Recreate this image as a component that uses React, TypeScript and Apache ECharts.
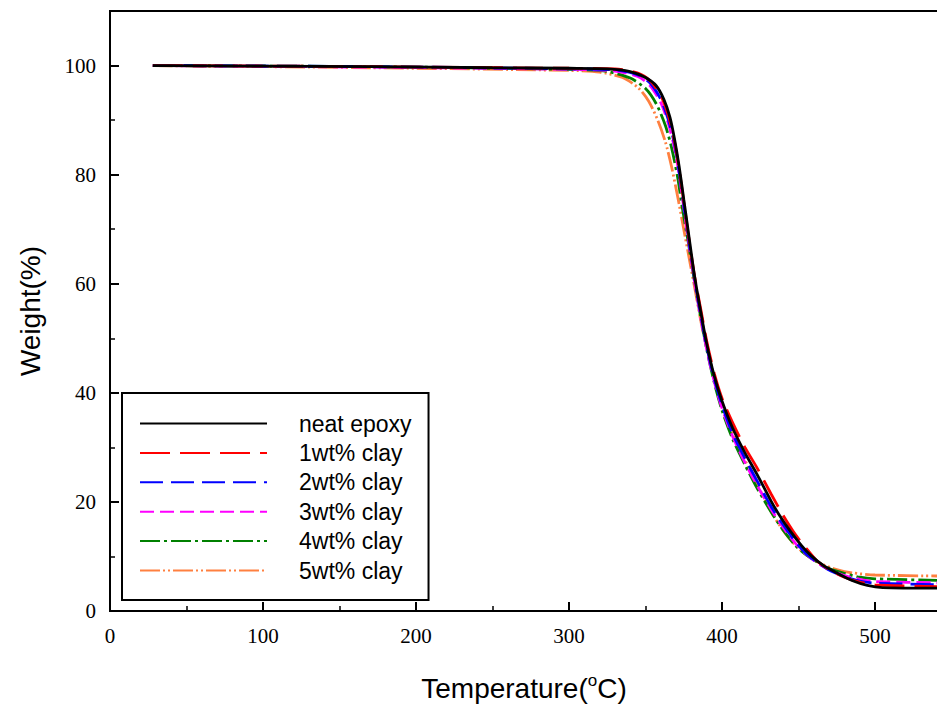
import React, { useEffect, useRef } from "react";
import * as echarts from "echarts";

const seriesNames = ["neat epoxy", "1wt% clay", "2wt% clay", "3wt% clay", "4wt% clay", "5wt% clay"];
const seriesColors = ["#000000", "#ff0000", "#0000ff", "#ff00ff", "#008000", "#ff8040"];

const neatEpoxy: number[][] = [
  [28, 100], [100, 99.9], [170, 99.8], [250, 99.6], [300, 99.5], [325, 99.4], [340, 98.9], [350, 97.8],
  [357, 96.3], [362, 93.8], [366, 90.5], [369, 86.5], [372, 81.5], [375, 75.5], [378, 69.5], [382, 61.5],
  [386, 55], [390, 49], [395, 43], [400, 38.5], [407, 33.5], [415, 29], [423, 25], [432, 20.2], [437, 17.8],
  [445, 14.5], [452, 12], [458, 10.2], [466, 8.4], [475, 7], [485, 5.6], [495, 4.7], [505, 4.3], [545, 4.2],
];
const clay1: number[][] = [
  [28, 100], [170, 99.8], [300, 99.5], [330, 99.4], [345, 98.6], [353, 97.2], [360, 94.5], [365, 90.8],
  [369, 86], [372, 81], [375, 75], [378, 69], [382, 61.5], [386, 55.5], [390, 49.5], [395, 43.5], [400, 39],
  [407, 34.5], [415, 30], [423, 26.2], [432, 21.5], [440, 17.5], [448, 14], [455, 11.5], [462, 9.2],
  [470, 7.6], [480, 6.2], [490, 5.3], [500, 4.8], [545, 4.45],
];
const clay2: number[][] = [
  [28, 100], [170, 99.8], [300, 99.4], [330, 99.2], [345, 98.3], [353, 96.8], [360, 93.8], [365, 90],
  [369, 85.5], [372, 80.5], [375, 74.5], [378, 68.5], [382, 61], [386, 54.5], [390, 48.5], [395, 42.5],
  [400, 37.8], [407, 32.5], [415, 28], [423, 23.8], [432, 19.2], [440, 15.8], [448, 12.7], [455, 10.5],
  [462, 9], [470, 7.5], [480, 6.3], [490, 5.5], [500, 5.1], [545, 4.8],
];
const clay3: number[][] = [
  [28, 100], [170, 99.7], [300, 99.3], [330, 99], [345, 98], [353, 96.3], [360, 93.2], [365, 89.3],
  [369, 84.8], [372, 80], [375, 74], [378, 68], [382, 60.5], [386, 54], [390, 48], [395, 42], [400, 37.2],
  [407, 32], [415, 27.2], [423, 23], [432, 18.7], [440, 15.3], [448, 12.4], [455, 10.4], [462, 8.9],
  [470, 7.6], [480, 6.5], [490, 5.8], [500, 5.4], [545, 5.15],
];
const clay4: number[][] = [
  [28, 100], [170, 99.8], [300, 99.3], [325, 98.9], [340, 97.7], [350, 95.8], [357, 93], [363, 89],
  [367, 85], [371, 79.5], [374, 74], [378, 67.5], [382, 60.5], [386, 54], [390, 48], [395, 41.8],
  [400, 36.8], [407, 31.5], [415, 26.8], [423, 22.5], [432, 18.2], [440, 14.8], [448, 12], [455, 10.3],
  [462, 9], [470, 7.8], [480, 6.9], [490, 6.2], [500, 5.9], [545, 5.6],
];
const clay5: number[][] = [
  [28, 100], [170, 99.6], [300, 99.1], [320, 98.8], [335, 97.8], [345, 96], [352, 93.5], [358, 90],
  [363, 86], [367, 81.5], [371, 76], [375, 70], [379, 64], [383, 58], [387, 52], [392, 46], [397, 40.5],
  [403, 35.5], [410, 30.5], [418, 26], [426, 21.5], [434, 17.3], [442, 14], [450, 11.5], [458, 9.8],
  [466, 8.5], [475, 7.6], [485, 7], [500, 6.6], [545, 6.4],
];
const seriesData = [neatEpoxy, clay1, clay2, clay3, clay4, clay5];

const xTicks = { min: 0, max: 600, interval: 100, maxLabel: 500 };
const yTicks = { min: 0, max: 110, interval: 20, minorInterval: 10, maxLabel: 100 };

const dashTypes: any[] = [
  "solid",
  [30, 10],
  [23, 8],
  [14, 6],
  [20, 4, 3, 4],
  [20, 3, 2, 3, 2, 3],
];

export default function App() {
  const ref = useRef<HTMLDivElement>(null);
  useEffect(() => {
    if (!ref.current) return;
    const chart = echarts.init(ref.current, undefined, { renderer: "svg" });
    const serif = "'Liberation Serif', 'Times New Roman', serif";
    const sans = "'Liberation Sans', Arial, sans-serif";
    chart.setOption({
      animation: false,
      backgroundColor: "#ffffff",
      grid: {
        left: 110,
        top: 11,
        width: 918,
        height: 600,
        show: true,
        borderColor: "#000",
        borderWidth: 2,
        backgroundColor: "transparent",
        outerBoundsMode: "none",
      },
      legend: {
        orient: "vertical",
        left: 122,
        top: 393,
        padding: [19, 17, 18, 17],
        itemGap: 6.4,
        itemWidth: 127,
        itemHeight: 23,
        borderColor: "#000",
        borderWidth: 2,
        backgroundColor: "#fff",
        data: seriesNames,
        itemStyle: { opacity: 0, borderWidth: 0 },
        textStyle: { fontFamily: sans, fontSize: 23, color: "#000", padding: [0, 0, 0, 27] },
      },
      xAxis: {
        type: "value",
        min: xTicks.min,
        max: xTicks.max,
        interval: xTicks.interval,
        name: "{a|Temperature(}{s|o}{a|C)}",
        nameLocation: "middle",
        nameGap: 61,
        nameTextStyle: {
          padding: [0, 90, 0, 0],
          rich: {
            a: { fontFamily: sans, fontSize: 28, color: "#000", lineHeight: 32 },
            s: { fontFamily: sans, fontSize: 17, color: "#000", verticalAlign: "top", lineHeight: 32 },
          },
        },
        axisLine: { show: true, lineStyle: { color: "#000", width: 2 } },
        axisTick: { show: true, inside: true, length: 9, lineStyle: { color: "#000", width: 2 } },
        minorTick: { show: true, splitNumber: 2, length: 5, lineStyle: { color: "#000", width: 1.5 } },
        axisLabel: {
          fontFamily: serif,
          fontSize: 21,
          color: "#000",
          margin: 14,
          formatter: (v: number) => (v > xTicks.maxLabel ? "" : String(v)),
        },
        splitLine: { show: false },
      },
      yAxis: [
        {
          type: "value",
          position: "left",
          min: yTicks.min,
          max: yTicks.max,
          interval: yTicks.interval,
          name: "Weight(%)",
          nameLocation: "middle",
          nameRotate: 90,
          nameGap: 66,
          nameTextStyle: { fontFamily: sans, fontSize: 28, color: "#000" },
          axisLine: { show: true, lineStyle: { color: "#000", width: 2 } },
          axisTick: { show: true, inside: true, length: 9, lineStyle: { color: "#000", width: 2 } },
          axisLabel: {
            fontFamily: serif,
            fontSize: 21,
            color: "#000",
            margin: 14,
            formatter: (v: number) => (v > yTicks.maxLabel ? "" : String(v)),
          },
          splitLine: { show: false },
        },
        {
          type: "value",
          position: "left",
          min: yTicks.min,
          max: yTicks.max,
          interval: yTicks.minorInterval,
          axisLine: { show: false },
          axisTick: { show: true, inside: true, length: 5, lineStyle: { color: "#000", width: 1.5 } },
          axisLabel: { show: false },
          splitLine: { show: false },
        },
      ],
      series: seriesNames.map((name, i) => ({
        name,
        type: "line",
        data: seriesData[i],
        yAxisIndex: 0,
        symbol: "none",
        showSymbol: false,
        smooth: 0.25,
        z: 10 - i,
        lineStyle: { color: seriesColors[i], width: 2.8, type: dashTypes[i] },
        itemStyle: { color: seriesColors[i] },
      })),
    });
    return () => chart.dispose();
  }, []);
  return (
    <div style={{ width: 937, height: 704, position: "absolute", left: 0, top: 0, overflow: "hidden" }}>
      <div ref={ref} style={{ width: 1040, height: 704 }} />
    </div>
  );
}
